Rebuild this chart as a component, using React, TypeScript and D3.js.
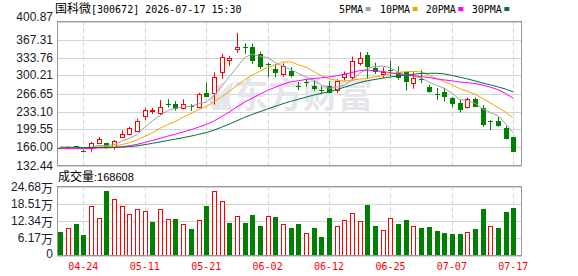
import React from "react";
import * as d3 from "d3";

// ---------- DATA ----------
const dates = ["04-21","04-22","04-23","04-24","04-27","04-28","04-29","04-30","05-06","05-07","05-08","05-11","05-12","05-13","05-14","05-15","05-18","05-19","05-20","05-21","05-22","05-25","05-26","05-27","05-28","05-29","06-01","06-02","06-03","06-04","06-05","06-08","06-09","06-10","06-11","06-12","06-15","06-16","06-17","06-18","06-22","06-23","06-24","06-25","06-26","06-29","06-30","07-01","07-02","07-03","07-06","07-07","07-08","07-09","07-10","07-13","07-14","07-15","07-16","07-17"];

const opens = [165.5,165,168,159.8,165.3,173.5,173.5,166,186,191,197,225,234,231,247,246.5,239,244,241,267,267,306,328.5,350.5,354,353,340,321,312,303,309,280,287.5,281,274,280,274,297,298,324,337.5,314.5,303,310,307.5,306,286,294,279,266,270,259,249,242,256.5,240,215,215.5,203,185];
const highs = [166.5,168,169,162,176.5,186,174.5,180,198,205,220,240,240,254.5,256,252.5,256,247,268,287.5,306,340.5,337,379.5,360,360,345,324,322,323,316,288,293,290,280,290,293,307.5,335.5,344,344,324,315.5,328,317,308,306,310,283,277,277,260,254.5,259,259,245,217,223,206,186];
const lows = [164,164.5,165.5,156.5,158,172,164.5,162,185,189,195,217,228.5,226.5,241,234.5,237,234.5,239,259.5,246,294,318.5,342.5,340,322,312,297,297,298,297,273,279.5,272,266,267,267,291,291,318.5,293.5,303,296,298,292,272,275.5,286,268,254.5,251.5,241,231,239,241,204.5,198.5,204.5,181,157.5];
const closes = [165,167.5,167.2,158.8,173.5,181.6,165.3,177.5,190.5,201.5,215,236,235,242,246,237,246.5,243,265.7,260,297,334,332,353.5,352.5,328,315.5,319.5,305.5,317,300,278.5,286.5,275,273,268.5,290,302.5,327.5,332.5,315.5,307,307.5,309,295,287.5,295,292.5,270,265,260.5,248,236.5,256.5,242,208,213.5,206,182,158];
const volumes = [82600,99500,111400,71800,178500,135400,229900,203700,178500,149800,167700,160600,118500,167700,131800,129300,111400,93400,128200,176000,229900,196500,114900,140100,114900,143700,104200,140100,136500,111400,97000,111400,79000,97000,64700,132900,104200,125700,150900,122100,179600,104200,89800,132900,111400,125700,104200,97000,100600,86200,79000,75400,75400,82600,93400,165200,104200,97000,154500,168608];
// closes before the first visible day (used only for moving averages)
const priorCloses = [175,172,174,171,173,176,172,170,174,173,168,165,162,163,161,164,162,163,165,163,162,164,163,162,164,165,163,164,166];

const priceTicks = [132.44,166.0,199.55,233.1,266.65,300.21,333.76,367.31,400.87];
const priceTickLabels = ["132.44","166.00","199.55","233.10","266.65","300.21","333.76","367.31","400.87"];
const volTicks = [0,61700,123400,185100,246800];
const volTickLabels = ["0","6.17万","12.34万","18.51万","24.68万"];
const tickDates = ["04-24","05-11","05-21","06-02","06-12","06-25","07-07","07-17"];

const maPeriods = [5,10,20,30];
const maNames = ["5PMA","10PMA","20PMA","30PMA"];
const maColors = ["#a0a0a0","#f5a500","#ff00ff","#00703c"];

const title = "国科微[300672] 2026-07-17 15:30";
const volTitle = "成交量:168608";
const watermark = "东方财富";

// ---------- LAYOUT ----------
const W = 578, H = 276;
const L = 57, R = 522;
const pTop = 21.5, pBot = 165.5;
const vTop = 186.5, vBot = 255.5;
const RED = "#ff0000", GREEN = "#008000";
const GRID = "#d4d4d4", BORDER = "#9a9a9a";
const monoFont = "'DejaVu Sans Mono', 'Liberation Mono', monospace";
const sansFont = "'Liberation Sans', Arial, sans-serif";
const cjkFont = "'Noto Sans CJK SC', sans-serif";

export default function App() {
  const x = d3.scalePoint<string>().domain(dates).range([60.3, 513.3]);
  const y = d3.scaleLinear().domain([132.44, 400.87]).range([pBot, pTop]);
  const yv = d3.scaleLinear().domain([0, 246800]).range([vBot, vTop]);

  const all = priorCloses.concat(closes);
  const off = priorCloses.length;
  const maSeries = maPeriods.map((n) =>
    closes.map((_, i) => d3.mean(all.slice(off + i - n + 1, off + i + 1)) as number)
  );

  const px = (d: string) => Math.round(x(d) as number) + 0.5;

  const lineGen = d3
    .line<number>()
    .x((_, i) => x(dates[i]) as number)
    .y((v) => y(v));

  return (
    <svg
      width={W}
      height={H}
      style={{ position: "absolute", left: 0, top: 0, background: "#fff" }}
      xmlns="http://www.w3.org/2000/svg"
    >
      <rect x={0} y={0} width={W} height={H} fill="#fff" />
      {/* title */}
      <text x={55} y={13} fontSize={10} fill="#000">
        <tspan fontFamily={cjkFont} fontSize={12}>国科微</tspan>
        <tspan fontFamily={monoFont}>{title.slice(3)}</tspan>
      </text>
      {/* legend */}
      {maNames.map((n, k) => {
        const xs = [339, 380, 425.7, 471.7][k];
        const w = n.length * 6.02;
        return (
          <g key={n}>
            <text x={xs} y={13} fontFamily={monoFont} fontSize={10} fill="#000">{n}</text>
            <rect x={xs + w + 2.5} y={7} width={5} height={4} fill={maColors[k]} />
          </g>
        );
      })}

      {/* price grid */}
      {priceTicks.map((t, k) => (
        <line key={"pg" + k} x1={L} x2={R} y1={Math.round(y(t)) + 0.5} y2={Math.round(y(t)) + 0.5} stroke={GRID} />
      ))}
      {volTicks.map((t, k) => (
        <line key={"vg" + k} x1={L} x2={R} y1={Math.round(yv(t)) + 0.5} y2={Math.round(yv(t)) + 0.5} stroke={GRID} />
      ))}
      {tickDates.map((d) => (
        <g key={"vd" + d}>
          <line x1={px(d)} x2={px(d)} y1={pTop} y2={pBot} stroke={GRID} strokeDasharray="4,3" />
          <line x1={px(d)} x2={px(d)} y1={vTop} y2={vBot} stroke={GRID} strokeDasharray="4,3" />
        </g>
      ))}

      {/* watermark */}
      <g fill="#e5e6ea">
        <path d="M213,110 C206,98 212,87 225,81 C219,91 218,101 222,110 Z" />
        <path d="M223,110 C216,98 222,87 235,81 C229,91 228,101 232,110 Z" />
        <text x={233} y={108} fontFamily={cjkFont} fontWeight={700} fontSize={35}>{watermark}</text>
      </g>

      {/* candles */}
      {dates.map((d, i) => {
        const cx = px(d);
        const o = opens[i], c = closes[i], h = highs[i], l = lows[i];
        const up = c >= o;
        const yTop = Math.round(y(Math.max(o, c)));
        const yBottom = Math.round(y(Math.min(o, c)));
        const yh = y(h), yl = y(l);
        if (up) {
          const bh = Math.max(1, yBottom - yTop);
          return (
            <g key={"c" + i} stroke={RED} fill="#fff">
              <line x1={cx} x2={cx} y1={yh} y2={yTop + 0.5} />
              <line x1={cx} x2={cx} y1={yTop + 0.5 + bh} y2={yl} />
              <rect x={cx - 2} y={yTop + 0.5} width={4} height={bh} />
            </g>
          );
        }
        return (
          <g key={"c" + i}>
            <line x1={cx} x2={cx} y1={yh} y2={yl} stroke={GREEN} />
            <rect x={cx - 2.5} y={yTop} width={5} height={Math.max(1, yBottom - yTop)} fill={GREEN} />
          </g>
        );
      })}

      {/* moving averages */}
      {maSeries.map((s, k) => (
        <path key={"ma" + k} d={lineGen(s) as string} fill="none" stroke={maColors[k]} strokeWidth={1} />
      ))}

      {/* volume bars */}
      {dates.map((d, i) => {
        const cx = px(d);
        const prev = i === 0 ? priorCloses[priorCloses.length - 1] : closes[i - 1];
        const up = closes[i] > prev;
        const yt = Math.round(yv(volumes[i]));
        const yb = Math.round(yv(0));
        if (up) {
          return <rect key={"v" + i} x={cx - 2} y={yt + 0.5} width={4} height={yb - yt - 1} fill="#fff" stroke={RED} />;
        }
        return <rect key={"v" + i} x={cx - 2.5} y={yt} width={5} height={yb - yt} fill={GREEN} />;
      })}

      {/* borders */}
      <rect x={L + 0.5} y={pTop} width={R - L - 1} height={pBot - pTop} fill="none" stroke={BORDER} />
      <rect x={L + 0.5} y={vTop} width={R - L - 1} height={vBot - vTop} fill="none" stroke={BORDER} />

      {/* price axis labels */}
      {priceTicks.map((t, k) => (
        <text
          key={"pl" + k}
          x={53}
          y={y(t) + (k === priceTicks.length - 1 ? -4.5 : 0)}
          textAnchor="end"
          dominantBaseline="central"
          fontFamily={sansFont}
          fontSize={12}
          fill="#1a1a2e"
        >
          {priceTickLabels[k]}
        </text>
      ))}

      {/* volume title */}
      <text x={58} y={181} fontSize={12} fill="#000">
        <tspan fontFamily={cjkFont}>{volTitle.slice(0, 3)}</tspan>
        <tspan fontFamily={sansFont} fontSize={11}>{volTitle.slice(3)}</tspan>
      </text>

      {/* volume axis labels */}
      {volTicks.map((t, k) => {
        const lab = volTickLabels[k];
        const hasWan = lab.endsWith("万");
        return (
          <text
            key={"vl" + k}
            x={53}
            y={yv(t) - (k === 0 ? 1.5 : 0)}
            textAnchor="end"
            dominantBaseline="central"
            fontSize={12}
            fill="#1a1a2e"
          >
            <tspan fontFamily={sansFont}>{hasWan ? lab.slice(0, -1) : lab}</tspan>
            {hasWan && <tspan fontFamily={cjkFont}>万</tspan>}
          </text>
        );
      })}

      {/* date labels */}
      {tickDates.map((d) => (
        <text
          key={"dl" + d}
          x={x(d) as number}
          y={266}
          textAnchor="middle"
          dominantBaseline="central"
          fontFamily={monoFont}
          fontSize={10}
          fill={RED}
        >
          {d}
        </text>
      ))}
    </svg>
  );
}
